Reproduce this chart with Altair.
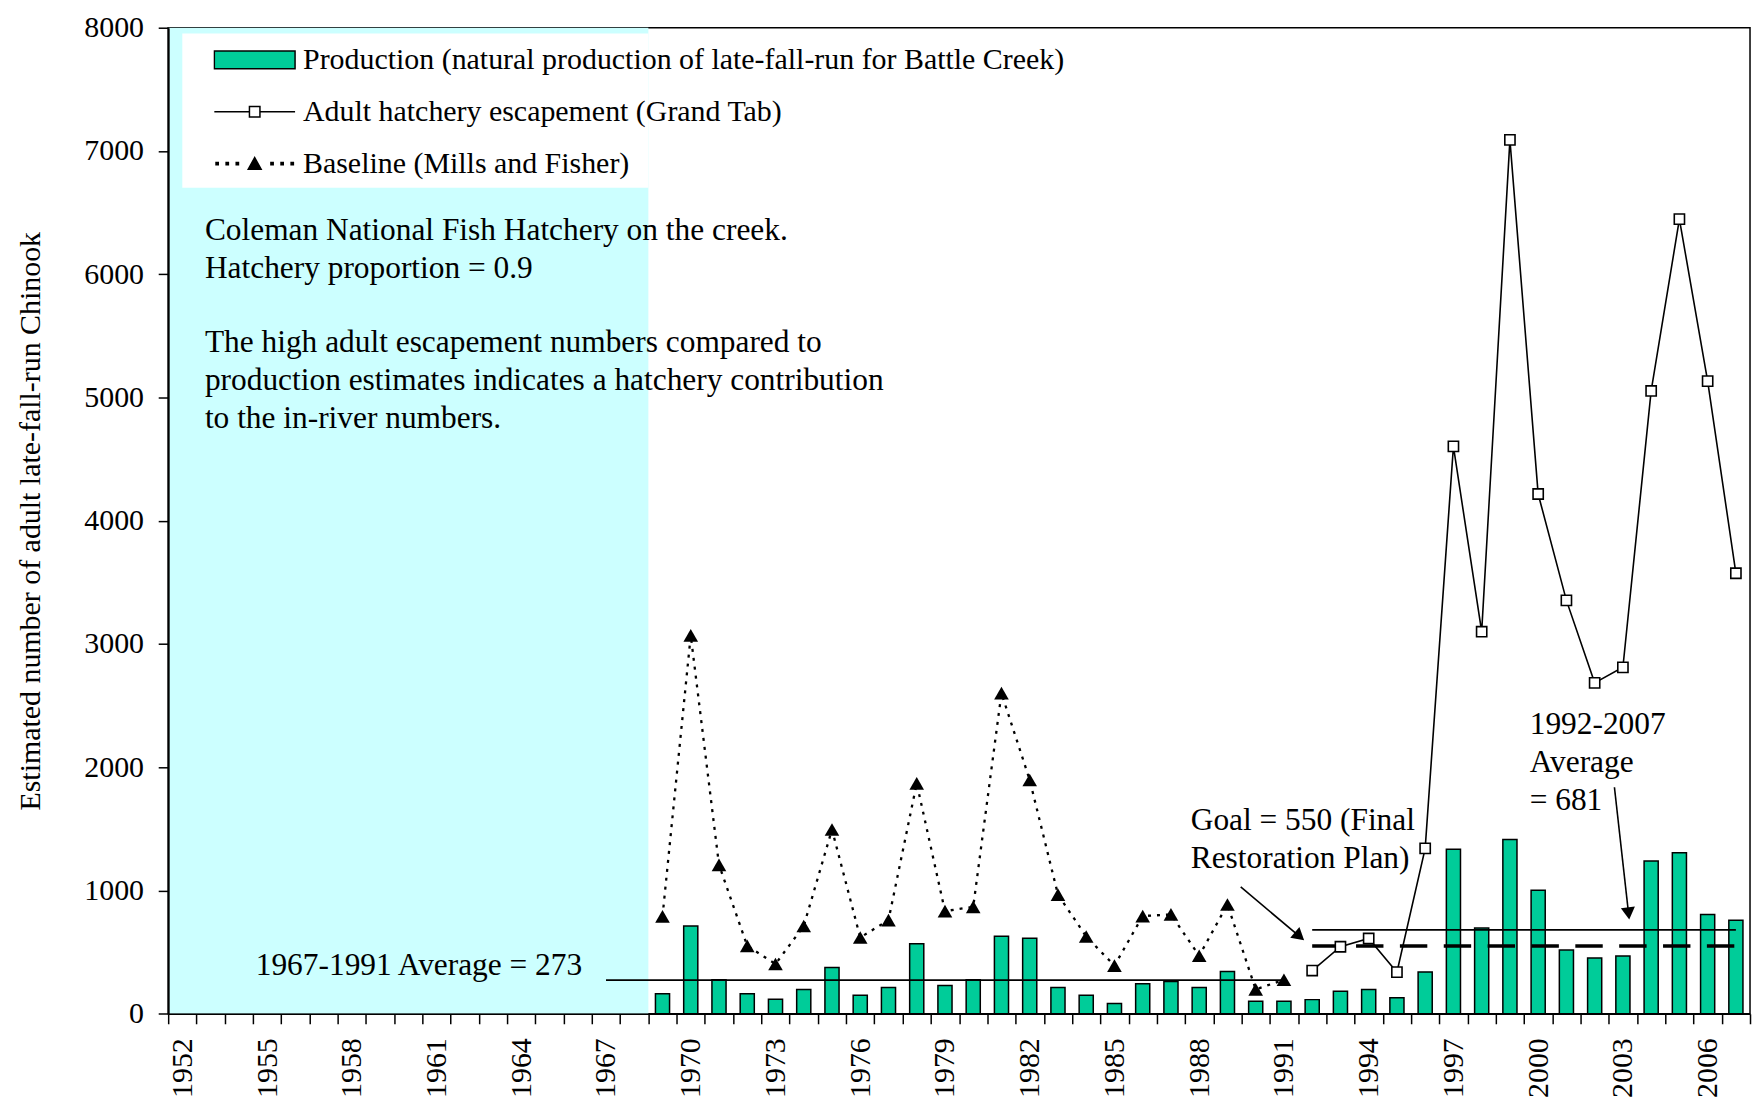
import altair as alt
import pandas as pd

FONT = "Liberation Serif"
GREEN = "#00CC99"
CYAN = "#CCFFFF"

# ---------------- data ----------------
prod_years = list(range(1969, 2008))
production = [163, 712, 276, 163, 118, 198, 375, 150, 214, 568, 230, 276, 629, 613,
              214, 150, 83, 244, 262, 214, 343, 102, 102, 115, 182, 198, 131, 340,
              1334, 696, 1415, 1002, 517, 453, 469, 1240, 1307, 806, 758]

base_years = list(range(1969, 1992))
baseline = [790, 3070, 1208, 551, 404, 712, 1495, 619, 760, 1870, 833, 868, 2601,
            1897, 967, 627, 391, 793, 806, 471, 887, 198, 276]

esc_years = list(range(1992, 2008))
escapement = [351, 544, 611, 338, 1342, 4603, 3100, 7090, 4217, 3354, 2685, 2811,
              5053, 6447, 5133, 3574]

series_names = [
    "Production (natural production of late-fall-run for Battle Creek)",
    "Adult hatchery escapement (Grand Tab)",
    "Baseline (Mills and Fisher)",
]

avg_x0 = [1967, 1992]
avg_x1 = [1991, 2007]
avg_y = [273, 681]
goal_x0, goal_x1, goal_y = [1992], [2007], [550]

shade_x = [1951.5, 1968.5]
shade_y = [0, 8000]
box_x = [1952.0, 1968.5]
box_y = [6701, 7954]

x_domain = [1951.5, 2007.5]
y_ticks = list(range(0, 8001, 1000))
x_tick_values = [1951.5 + i for i in range(57)]

notes_a = ["Coleman National Fish Hatchery on the creek.\nHatchery proportion = 0.9",
           "The high adult escapement numbers compared to\nproduction estimates indicates a hatchery contribution\nto the in-river numbers.",
           "1967-1991 Average = 273",
           "Goal = 550 (Final\nRestoration Plan)",
           "1992-2007\nAverage\n= 681"]
notes_x = [1952.8, 1952.8, 1954.6, 1987.7, 1999.7]
notes_y = [6275, 5366, 312, 1493, 2267]

arrow_x0 = [1989.47, 2002.70]
arrow_y0 = [1029, 1838]
arrow_x1 = [1991.55, 2003.20]
arrow_y1 = [628, 814]
arrow_angle = [130.6, 173.6]

# ---------------- tables ----------------
prod_df = pd.DataFrame({"year": prod_years, "value": production})
base_df = pd.DataFrame({"year": base_years, "value": baseline})
esc_df = pd.DataFrame({"year": esc_years, "value": escapement})
avg_df = pd.DataFrame({"x0": avg_x0, "x1": avg_x1, "y": avg_y})
goal_df = pd.DataFrame({"x0": goal_x0, "x1": goal_x1, "y": goal_y})
shade_df = pd.DataFrame({"x0": [shade_x[0]], "x1": [shade_x[1]], "y0": [shade_y[0]], "y1": [shade_y[1]]})
box_df = pd.DataFrame({"x0": [box_x[0]], "x1": [box_x[1]], "y0": [box_y[0]], "y1": [box_y[1]]})
notes_df = pd.DataFrame({"x": notes_x, "y": notes_y, "label": notes_a})
arrow_df = pd.DataFrame({"x0": arrow_x0, "y0": arrow_y0, "x1": arrow_x1, "y1": arrow_y1, "angle": arrow_angle})
legend_df = pd.DataFrame({"series": series_names})

xs = alt.Scale(domain=x_domain, nice=False, zero=False)
ys = alt.Scale(domain=[0, 8000], nice=False)

x_axis = alt.Axis(
    values=x_tick_values,
    labelExpr="(datum.value + 0.5 - 1952) % 3 == 0 ? '' + (datum.value + 0.5) : ''",
    labelAngle=270, labelOffset=14.17, labelPadding=14, tickSize=10, tickWidth=1.5,
    labelFlush=False, labelOverlap=False, grid=False, title=None,
    labelFont=FONT, labelFontSize=30, labelColor="black", tickColor="black",
    domainColor="black", domainWidth=1.5, zindex=1,
)
y_axis = alt.Axis(
    values=y_ticks, format="d", tickSize=10, tickWidth=1.5, labelPadding=14.7,
    grid=False, title="Estimated number of adult late-fall-run Chinook",
    titleFont=FONT, titleFontSize=30, titleFontWeight="normal", titleColor="black",
    titlePadding=38, labelFont=FONT, labelFontSize=30, labelColor="black",
    tickColor="black", domainColor="black", domainWidth=2, zindex=1, labelFlush=False,
)


def X(f):
    return alt.X(f, type="quantitative", scale=xs, axis=x_axis)


def Y(f):
    return alt.Y(f, type="quantitative", scale=ys, axis=y_axis)


shade = alt.Chart(shade_df).mark_rect(fill=CYAN).encode(
    x=X("x0"), x2="x1", y=Y("y0"), y2="y1")
box = alt.Chart(box_df).mark_rect(fill="white").encode(
    x=X("x0"), x2="x1", y=Y("y0"), y2="y1")

bars = alt.Chart(prod_df).transform_calculate(
    x0="datum.year - 0.25", x1="datum.year + 0.25", zero="0"
).mark_bar(fill=GREEN, stroke="black", strokeWidth=1.5).encode(
    x=X("x0"), x2="x1", y=Y("value"), y2="zero:Q")

avg_lines = alt.Chart(avg_df).mark_rule(color="black", strokeWidth=1.6).encode(
    x=X("x0"), x2="x1", y=Y("y"))
goal_line = alt.Chart(goal_df).mark_rule(color="black", strokeWidth=3.5, strokeDash=[27.5, 16.5]).encode(
    x=X("x0"), x2="x1", y=Y("y"))

base_line = alt.Chart(base_df).mark_line(color="black", strokeWidth=2.3, strokeDash=[3, 6]).encode(
    x=X("year"), y=Y("value"))
base_pts = alt.Chart(base_df).mark_point(shape="triangle-up", filled=True, color="black", size=215, opacity=1).encode(
    x=X("year"), y=Y("value"))

esc_line = alt.Chart(esc_df).mark_line(color="black", strokeWidth=1.6).encode(
    x=X("year"), y=Y("value"))
esc_pts = alt.Chart(esc_df).mark_point(shape="square", filled=True, fill="white", stroke="black",
                                       strokeWidth=1.6, size=105, opacity=1).encode(
    x=X("year"), y=Y("value"))

notes = alt.Chart(notes_df).mark_text(
    align="left", baseline="alphabetic", font=FONT, fontSize=31.5, lineHeight=38,
    lineBreak="\n", color="black").encode(x=X("x"), y=Y("y"), text="label:N")

arrow_lines = alt.Chart(arrow_df).mark_rule(color="black", strokeWidth=1.6).encode(
    x=X("x0"), y=Y("y0"), x2="x1", y2="y1")
arrow_heads = alt.Chart(arrow_df).mark_point(shape="triangle-up", filled=True, color="black",
                                             size=200, opacity=1).encode(
    x=X("x1"), y=Y("y1"), angle=alt.Angle("angle:Q", scale=None))


def sq(cx, h):
    return f"M{cx - h:.3f},{-h:.3f}H{cx + h:.3f}V{h:.3f}H{cx - h:.3f}Z"


dots = "".join(sq(c, 0.028) for c in [-0.93, -0.68, -0.43, 0.43, 0.68, 0.93])
legend_paths = [
    "M-1,-0.22H1V0.22H-1Z",
    "M-1,0H-0.13M0.13,0H1" + sq(0, 0.13),
    dots + "M0,-0.15L0.16,0.14L-0.16,0.14Z",
]
leg = alt.Legend(
    title=None, orient="none", legendX=45.3, legendY=12.3, symbolSize=6561,
    clipHeight=40, rowPadding=12, labelFont=FONT, labelFontSize=30, labelColor="black",
    labelLimit=1500, labelOffset=7, padding=0, symbolOpacity=1,
)
legend_layer = alt.Chart(legend_df).transform_filter("false").mark_point(
    filled=True, opacity=1, stroke="black", strokeWidth=1.5
).encode(
    shape=alt.Shape("series:N", scale=alt.Scale(domain=series_names, range=legend_paths), legend=leg),
    fill=alt.Fill("series:N", scale=alt.Scale(domain=series_names, range=[GREEN, "white", "black"]), legend=leg),
)

chart = alt.layer(
    shade, box, bars, avg_lines, goal_line, base_line, base_pts, esc_line, esc_pts,
    notes, arrow_lines, arrow_heads, legend_layer,
).properties(
    width=1587, height=989.3,
    padding={"left": 160.7, "top": 18, "right": 5, "bottom": 86},
    autosize=alt.AutoSizeParams(type="none"),
).configure_view(stroke="black", strokeWidth=1.5)

chart.save("out.html", embed_options={"renderer": "svg", "actions": False})
